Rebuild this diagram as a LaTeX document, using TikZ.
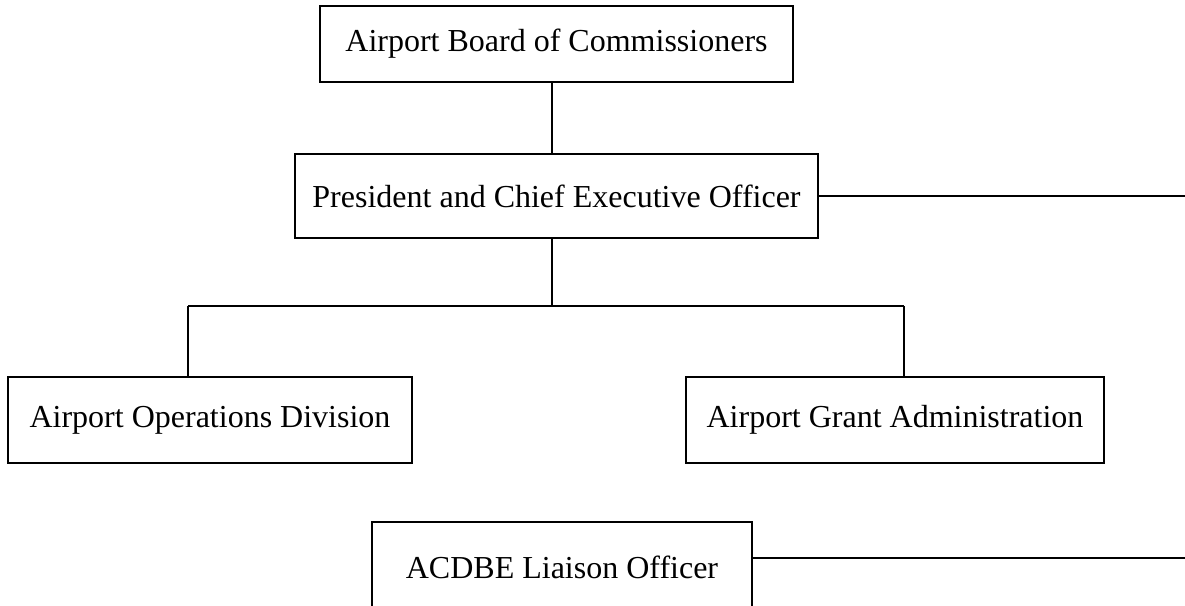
\documentclass[tikz,border=0pt]{standalone}
\usepackage{fontspec}
\setmainfont{Liberation Serif}
\usepackage{tikz}
\usetikzlibrary{positioning}

\tikzset{
  orgbox/.style={draw=black, line width=2pt, fill=white, inner sep=0pt,
                 font=\fontsize{32}{38}\selectfont},
  link/.style={line width=2pt}
}

\begin{document}
\begin{tikzpicture}[x=1pt, y=-1pt]
        \clip (0,0) rectangle (1185,605);
        \node[orgbox, minimum width=473pt, minimum height=76pt] (board) at (556.5,44) {Airport Board of Commissioners};
        \node[orgbox, minimum width=523pt, minimum height=84pt,
              below=70pt of board] (ceo) {President and Chief Executive Officer};
        \node[orgbox, minimum width=404pt, minimum height=86pt] (ops) at (210,420) {Airport Operations Division};
        \node[orgbox, minimum width=418pt, minimum height=86pt] (grant) at (895,420) {Airport Grant Administration};
        \node[orgbox, minimum width=380pt, minimum height=90pt] (acdbe) at (562,567) {ACDBE Liaison Officer};
        \coordinate (trunk) at (552,0);
        \coordinate (busL) at (188,306);
        \coordinate (busR) at (904,306);
        \coordinate (ceoEnd) at (1185,196);
        \coordinate (acdbeEnd) at (1185,558);
        \draw[link] (board.south -| trunk) -- (ceo.north -| trunk);
        \draw[link] (ceo.south -| trunk) -- (busL -| trunk);
        \draw[link] (busL) -- (busR);
        \draw[link] (busL) -- (busL |- ops.north);
        \draw[link] (busR) -- (busR |- grant.north);
        \draw[link] (ceo.east) -- (ceo.east -| ceoEnd);
        \draw[link] (acdbe.east |- acdbeEnd) -- (acdbeEnd);
      \end{tikzpicture}
\end{document}
